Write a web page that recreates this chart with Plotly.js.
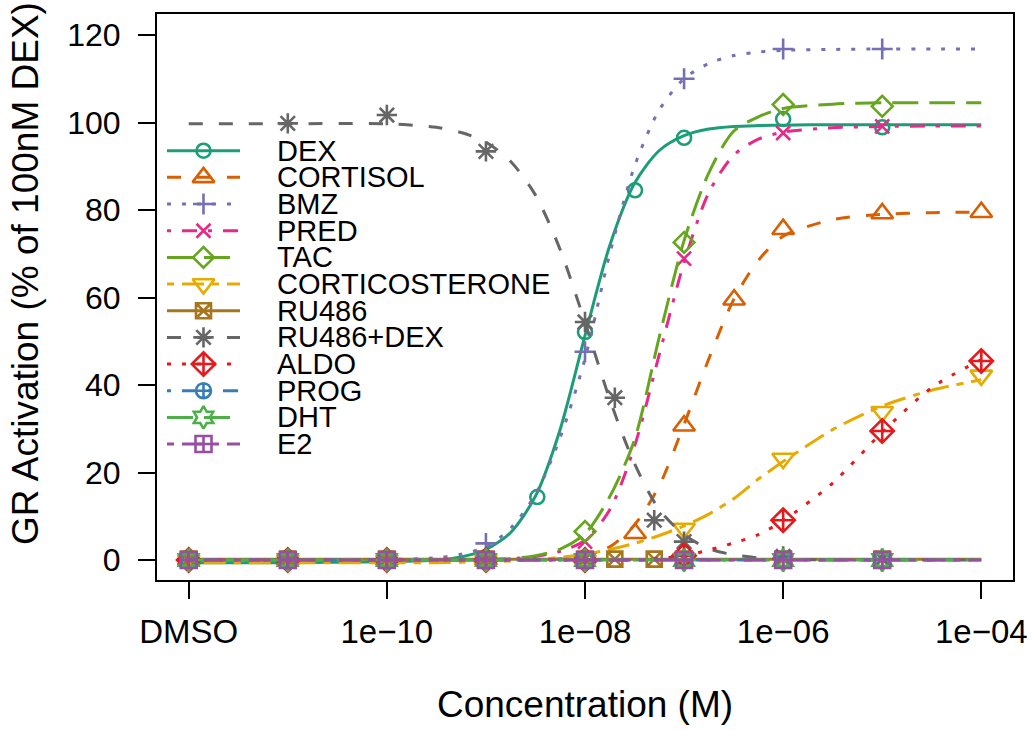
<!DOCTYPE html>
<html><head><meta charset="utf-8">
<script src="https://cdn.plot.ly/plotly-3.0.1.min.js"></script>
<style>html,body{margin:0;padding:0;background:#fff}#chart{width:1035px;height:730px}</style>
</head><body><div id="chart"></div>
<script>
// ---------------- DATA ----------------
const tickConc = [1e-12, 1e-10, 1e-8, 1e-6, 1e-4];
const tickLabels = ['DMSO', '1e\u221210', '1e\u221208', '1e\u221206', '1e\u221204'];
const yTickVals = [0, 20, 40, 60, 80, 100, 120];

const seriesNames = ['DEX','CORTISOL','BMZ','PRED','TAC','CORTICOSTERONE','RU486','RU486+DEX','ALDO','PROG','DHT','E2'];

// measured points (concentration in M, DMSO plotted at 1e-12)
const dexConc   = [1e-12, 1e-11, 1e-10, 1e-9, 3.3e-9, 1e-8, 3.2e-8, 1e-7, 1e-6, 1e-5];
const dexResp   = [0, 0, 0, 0, 14.4, 52.1, 84.5, 96.5, 100.8, 98.9];
const cortConc  = [1e-12, 1e-11, 1e-10, 1e-9, 1e-8, 3.2e-8, 1e-7, 3.2e-7, 1e-6, 1e-5, 1e-4];
const cortResp  = [0, 0, 0, 0, 0.5, 6.1, 30.7, 59.5, 75.6, 79.2, 79.5];
const bmzConc   = [1e-12, 1e-11, 1e-10, 1e-9, 1e-8, 1e-7, 1e-6, 1e-5];
const bmzResp   = [0, 0, 0, 3.8, 47.6, 110, 116.8, 116.8];
const predConc  = [1e-12, 1e-11, 1e-10, 1e-9, 1e-8, 1e-7, 1e-6, 1e-5];
const predResp  = [0, 0, 0, 0, 4.2, 68.9, 97.6, 99.1];
const tacConc   = [1e-12, 1e-11, 1e-10, 1e-9, 1e-8, 1e-7, 1e-6, 1e-5];
const tacResp   = [0, 0, 0, 0, 6.5, 72.6, 104.1, 103.7];
const corticoConc = [1e-12, 1e-11, 1e-10, 1e-9, 1e-8, 1e-7, 1e-6, 1e-5, 1e-4];
const corticoResp = [0, 0, 0, 0, 0, 7.2, 23.2, 33.9, 42.2];
const ru486Conc = [1e-12, 1e-11, 1e-10, 1e-9, 1e-8, 2e-8, 5e-8, 1e-7, 1e-6, 1e-5];
const ru486Resp = [0.2, 0.2, 0.2, 0.2, 0.2, 0.2, 0.2, 0.2, 0.2, 0.2];
const ruDexConc = [1e-11, 1e-10, 1e-9, 1e-8, 2e-8, 5e-8, 1e-7, 1e-6, 1e-5];
const ruDexResp = [99.8, 101.7, 93.4, 54.4, 37.1, 9.1, 4.2, 0.8, 0.3];
const aldoConc  = [1e-12, 1e-11, 1e-10, 1e-9, 1e-8, 1e-7, 1e-6, 1e-5, 1e-4];
const aldoResp  = [0, 0, 0, 0, 0, 1, 9.1, 29.5, 45.5];
const progConc  = [1e-12, 1e-11, 1e-10, 1e-9, 1e-8, 1e-7, 1e-6, 1e-5];
const progResp  = [0, 0, 0, 0, 0, 0, 0, 0];
const dhtConc   = [1e-12, 1e-11, 1e-10, 1e-9, 1e-8, 1e-7, 1e-6, 1e-5];
const dhtResp   = [0, 0, 0, 0, 0, 0, 0, 0];
const e2Conc    = [1e-12, 1e-11, 1e-10, 1e-9, 1e-8, 1e-7, 1e-6, 1e-5];
const e2Resp    = [0, 0, 0, 0, 0, 0, 0, 0];

// fitted curves at these log10 concentrations
const curveLogConc = [-12, -11, -10, -9.5, -9.25, -9, -8.75, -8.5, -8.25, -8, -7.75, -7.5, -7.25, -7, -6.75, -6.5, -6.25, -6, -5.5, -5, -4.5, -4];
const dexCurve     = [-0.6, -0.6, -0.4, 0, 0.7, 2.4, 6.3, 14.6, 29.9, 51.3, 71.9, 86.1, 93.6, 97.0, 98.5, 99.1, 99.3, 99.4, 99.5, 99.5, 99.5, 99.5];
const cortCurve    = [0, 0, 0, 0, 0, 0, 0, 0, 0.3, 1.0, 3, 8, 17, 31, 46, 59.5, 68.5, 74, 77.8, 79, 79.4, 79.5];
const bmzCurve     = [0, 0, 0.1, 0.5, 1.3, 3.0, 7.3, 15, 28, 46, 70, 90, 102.9, 110, 113.5, 115.3, 116.1, 116.5, 116.7, 116.8, 116.8, 116.8];
const predCurve    = [0, 0, 0, 0, 0, 0.1, 0.3, 0.8, 2, 4.5, 11.5, 26, 47, 68, 84, 92.5, 96.2, 97.8, 98.8, 99.1, 99.2, 99.2];
const tacCurve     = [0, 0, 0, 0, 0, 0.1, 0.3, 1.0, 2.5, 6, 14.5, 27.5, 51, 73, 88.5, 98, 101.3, 103.2, 104.2, 104.5, 104.5, 104.5];
const corticoCurve = [-0.6, -0.6, -0.6, -0.6, -0.5, -0.4, -0.2, 0.1, 0.6, 1.3, 2.4, 3.8, 5.6, 7.8, 10.5, 14, 18.5, 22.5, 29.8, 35.2, 38.8, 41.2];
const ru486Curve   = [0.2, 0.2, 0.2, 0.2, 0.2, 0.2, 0.2, 0.2, 0.2, 0.2, 0.2, 0.2, 0.2, 0.2, 0.2, 0.2, 0.2, 0.2, 0.2, 0.2, 0.2, 0.2];
const ruDexCurve   = [99.7, 99.7, 99.7, 98.9, 97.7, 95.5, 91.1, 83.4, 70.9, 54.3, 36.7, 22, 11.5, 5.8, 2.6, 1.2, 0.5, 0.2, 0, 0, 0, 0];
const aldoCurve    = [0, 0, 0, 0, 0, 0, 0, 0, 0, 0, 0, 0, 0.4, 0.9, 2.3, 3.9, 5.8, 9.0, 17.6, 29.2, 39.4, 45.8];
const progCurve    = [0, 0, 0, 0, 0, 0, 0, 0, 0, 0, 0, 0, 0, 0, 0, 0, 0, 0, 0, 0, 0, 0];
const dhtCurve     = [0, 0, 0, 0, 0, 0, 0, 0, 0, 0, 0, 0, 0, 0, 0, 0, 0, 0, 0, 0, 0, 0];
const e2Curve      = [0, 0, 0, 0, 0, 0, 0, 0, 0, 0, 0, 0, 0, 0, 0, 0, 0, 0, 0, 0, 0, 0];

// ---------------- STYLE ----------------
const pointSets = [[dexConc,dexResp],[cortConc,cortResp],[bmzConc,bmzResp],[predConc,predResp],[tacConc,tacResp],[corticoConc,corticoResp],[ru486Conc,ru486Resp],[ruDexConc,ruDexResp],[aldoConc,aldoResp],[progConc,progResp],[dhtConc,dhtResp],[e2Conc,e2Resp]];
const curveSets = [dexCurve,cortCurve,bmzCurve,predCurve,tacCurve,corticoCurve,ru486Curve,ruDexCurve,aldoCurve,progCurve,dhtCurve,e2Curve];
const colors = ['#1B9E77','#D95F02','#7570B3','#E7298A','#66A61E','#E6AB02','#A6761D','#666666','#E41A1C','#377EB8','#4DAF4A','#984EA3'];
const DASHED = '14px,16px', DOTTED = '4px,11px', DOTDASH = '4px,11px,15px,11px', LONGDASH = '26px,11px', TWODASH = '7px,8px,22px,8px';
const dashes = ['solid', DASHED, DOTTED, DOTDASH, LONGDASH, TWODASH, 'solid', DASHED, DOTTED, DOTDASH, LONGDASH, TWODASH];
const symbols = ['circle-open','triangle-up-open','cross-thin-open','x-thin-open','diamond-open','triangle-down-open','square-x-open','asterisk-open','diamond-cross-open','circle-cross-open','hexagram-open','square-cross-open'];
const sizes = [14, 19, 15, 14, 16, 19, 15, 17, 18, 15, 17, 16];

const FONT = 'Liberation Sans, Arial, Helvetica, sans-serif';
const curveConc = curveLogConc.map(v => Math.pow(10, v));

const traces = [];
seriesNames.forEach((name, i) => {
  traces.push({
    type: 'scatter', mode: 'lines', x: curveConc, y: curveSets[i], name: name,
    line: {color: colors[i], width: 3, dash: dashes[i], shape: 'spline', smoothing: 0.8},
    showlegend: false, hoverinfo: 'skip'
  });
  traces.push({
    type: 'scatter', mode: 'markers', x: pointSets[i][0], y: pointSets[i][1], name: name,
    marker: {symbol: symbols[i], size: sizes[i], color: colors[i], line: {color: colors[i], width: 2.6}},
    showlegend: false
  });
});

// manual legend (R-style) drawn on an overlay axis measured in plot pixels
const plotL = 157, plotR = 1013, plotT = 14, plotB = 580;
const legLineX0 = 167, legLineX1 = 240, legMarkX = 203.5, legTextX = 275, legY0 = 150.7, legStep = 26.67;
const annotations = [];
seriesNames.forEach((name, i) => {
  const yy = legY0 + legStep * i;
  traces.push({
    type: 'scatter', mode: 'lines', x: [legLineX0, legLineX1], y: [yy, yy], xaxis: 'x2', yaxis: 'y2',
    line: {color: colors[i], width: 3, dash: dashes[i]}, showlegend: false, hoverinfo: 'skip'
  });
  traces.push({
    type: 'scatter', mode: 'markers', x: [legMarkX], y: [yy], xaxis: 'x2', yaxis: 'y2',
    marker: {symbol: symbols[i], size: sizes[i], color: colors[i], line: {color: colors[i], width: 2.6}},
    showlegend: false, hoverinfo: 'skip'
  });
  annotations.push({
    xref: 'x2', yref: 'y2', x: legTextX, y: yy, text: name, showarrow: false,
    xanchor: 'left', yanchor: 'middle', font: {family: FONT, size: 29, color: '#000'}
  });
});

// y-axis title, placed like the reference (slightly above the plot's middle), paper coords
const yTitlePx = 25, yTitlePy = 274;
annotations.push({
  xref: 'paper', yref: 'paper',
  x: (yTitlePx - plotL) / (plotR - plotL), y: (plotB - yTitlePy) / (plotB - plotT),
  text: 'GR Activation (% of 100nM DEX)',
  textangle: -90, showarrow: false, xanchor: 'center', yanchor: 'middle',
  font: {family: FONT, size: 37, color: '#000'}
});

const layout = {
  width: 1035, height: 730,
  margin: {l: plotL, r: 1035 - plotR, t: plotT, b: 730 - plotB, pad: 0},
  paper_bgcolor: '#fff', plot_bgcolor: '#fff',
  font: {family: FONT, color: '#000'},
  showlegend: false,
  xaxis: {
    type: 'log', range: [-12.32, -3.68], tickvals: tickConc, ticktext: tickLabels,
    ticks: 'outside', ticklen: 17, tickwidth: 2, tickcolor: '#000', ticklabelstandoff: 4,
    showline: true, linewidth: 2, linecolor: '#000', mirror: true,
    showgrid: false, zeroline: false,
    tickfont: {family: FONT, size: 33, color: '#000'},
    title: {text: 'Concentration (M)', font: {family: FONT, size: 37, color: '#000'}, standoff: 43}
  },
  yaxis: {
    range: [-4.57, 124.8], tickvals: yTickVals,
    ticks: 'outside', ticklen: 17, tickwidth: 2, tickcolor: '#000', ticklabelstandoff: 11,
    showline: true, linewidth: 2, linecolor: '#000', mirror: true,
    showgrid: false, zeroline: false,
    tickfont: {family: FONT, size: 32, color: '#000'}
  },
  xaxis2: {overlaying: 'x', range: [plotL, plotR], visible: false, fixedrange: true},
  yaxis2: {overlaying: 'y', range: [plotB, plotT], visible: false, fixedrange: true},
  annotations: annotations
};

Plotly.newPlot('chart', traces, layout, {displayModeBar: false, staticPlot: true});
</script></body></html>
